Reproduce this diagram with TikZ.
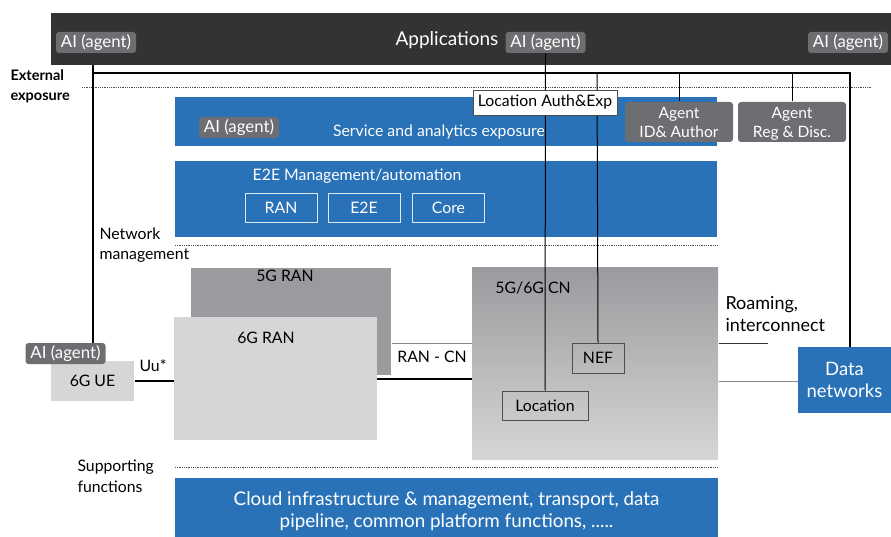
\documentclass[tikz,border=0pt]{standalone}
\usepackage{fontspec}
\setmainfont{Lato}
\usetikzlibrary{positioning}
\definecolor{appdark}{HTML}{333333}
\definecolor{ebblue}{HTML}{2A72B8}
\definecolor{agentgray}{HTML}{6D6E71}
\definecolor{rangray}{HTML}{9A9B9E}
\definecolor{lightgray}{HTML}{D6D6D6}
\definecolor{boxline}{HTML}{4D4D4D}
\definecolor{thingray}{HTML}{8A8A8A}

\begin{document}
\begin{tikzpicture}[x=1pt, y=-1pt, line width=1pt,
  txt/.style={font=\fontsize{15.8}{18}\selectfont, text=black, inner sep=0pt, align=left},
  wtxt/.style={txt, text=white, align=center},
  agent/.style={fill=agentgray, text=white, rounded corners=3pt, inner sep=0pt,
    minimum width=80, minimum height=21, font=\fontsize{16.8}{18}\selectfont},
  agentbig/.style={agent, minimum width=108, minimum height=40, align=center,
    font=\fontsize{15.6}{19}\selectfont},
  layer/.style={fill=ebblue, draw=none, inner sep=0pt},
  mgmtbox/.style={draw=white!85!ebblue, line width=0.8pt, text=white, inner sep=0pt,
    minimum width=72, minimum height=29, font=\fontsize{15.8}{18}\selectfont},
  nfbox/.style={draw=boxline, line width=0.8pt, inner sep=0pt, minimum height=29,
    font=\fontsize{15.8}{18}\selectfont},
  bus/.style={black, line width=1.6pt},
  link/.style={black, line width=1pt},
  sep/.style={black!70, densely dotted, line width=0.8pt}]

\useasboundingbox (0,0) rectangle (891,537);

% Applications layer
\node[fill=appdark, inner sep=0pt, minimum width=840, minimum height=52] (apps) at (471,39) {};
\node[wtxt, font=\fontsize{19}{21}\selectfont] (appstxt) at (447,40) {Applications};
\node[agent] (aiL) at (96,42.5) {AI (agent)};
\node[agent] (aiM) at (545.5,42.5) {AI (agent)};
\node[agent] (aiR) at (848,42.5) {AI (agent)};

% External exposure
\node[txt, anchor=west, font=\fontsize{14.5}{20}\selectfont\bfseries] (extlbl) at (10,86) {External\\exposure};
\draw[sep] (82,87) -- (872,87);

% Service and analytics exposure
\node[layer, minimum width=542, minimum height=49] (svc) at (446,121.5) {};
\node[wtxt] (svctxt) at (439,132) {Service and analytics exposure};
\node[agent] (aiSvc) at (239,127.5) {AI (agent)};
\node[agentbig, text depth=-1pt] (agid) at (679,122) {Agent\\ID\& Author};
\node[agentbig, text depth=-1pt] (agreg) at (792,122) {Agent\\Reg \& Disc.};

% E2E management
\node[layer, minimum width=542, minimum height=76] (e2e) at (446,199) {};
\node[wtxt] (e2etxt) at (357,176) {E2E Management/automation};
\node[mgmtbox] (mran) at (281,207.5) {RAN};
\node[mgmtbox] (me2e) at (364,207.5) {E2E};
\node[mgmtbox] (mcore) at (448.5,207.5) {Core};
\draw[sep] (175,245) -- (717,245);
\node[txt, anchor=west, font=\fontsize{15.8}{20}\selectfont] (nmlbl) at (99,245) {Network\\management};

% RAN and CN
\node[fill=rangray, inner sep=0pt, minimum width=200, minimum height=107] (ran5) at (291,321.5) {};
\node[txt] (ran5txt) at (285,276) {5G RAN};
\node[fill=lightgray, inner sep=0pt, minimum width=203, minimum height=123] (ran6) at (275.5,378.5) {};
\node[txt] (ran6txt) at (266,338) {6G RAN};
\node[top color=rangray, bottom color=lightgray, inner sep=0pt, minimum width=246, minimum height=191] (cn) at (595,363.5) {};
\node[txt] (cntxt) at (533,288) {5G/6G CN};
\node[nfbox, minimum width=52, minimum height=30] (nef) at (598,358) {NEF};
\node[nfbox, minimum width=86] (loc) at (545,405.5) {Location};

% UE and data networks
\node[fill=lightgray, inner sep=0pt, minimum width=83, minimum height=40, font=\fontsize{15.8}{18}\selectfont] (ue) at (92.5,381) {6G UE};
\node[agent] (aiUE) at (65.5,353.5) {AI (agent)};
\node[layer, minimum width=93, minimum height=66, text=white, align=center,
  font=\fontsize{18.5}{22}\selectfont] (dn) at (844.5,380) {Data\\networks};
\node[txt, anchor=west, font=\fontsize{18}{22}\selectfont] (roamtxt) at (725,314) {Roaming,\\interconnect};
\node[txt] (uutxt) at (153,366) {Uu*};
\node[txt] (rancntxt) at (432,357) {RAN - CN};

% Supporting functions
\draw[sep] (175,467) -- (718,467);
\node[txt, anchor=west, font=\fontsize{15.8}{21}\selectfont] (suplbl) at (77,476) {Supporting\\functions};
\node[layer, minimum width=543, minimum height=59] (cloud) at (446.5,507.5) {};
\node[wtxt, font=\fontsize{18.8}{22}\selectfont] (cloudtxt) at (446.5,511) {Cloud infrastructure \& management, transport, data\\pipeline, common platform functions, .....};

% Exposure bus
\coordinate (busL) at (93,73);
\coordinate (busR) at (850,73);
\draw[bus] (busL |- apps.south) -- (busL) -- (busR) -- (busR |- dn.north);
\draw[bus] (busL) -- (busL |- aiUE.north);
\draw[link] (aiM.south) -- (loc.north);
\draw[link] (597,73) -- (nef.north);
\draw[link] (agid.north) -- (agid.north |- busL);
\draw[link] (agreg.north) -- (agreg.north |- busL);
\node[nfbox, fill=white, minimum width=144, minimum height=25] (locauth) at (545,102.5) {Location Auth\&Exp};

% Interfaces
\coordinate (rc) at (377,379);
\draw[bus] (ue.east) -- (ue.east -| ran6.west);
\draw[bus] (rc) -- (rc -| cn.west);
\draw[thingray, line width=0.8pt] (ran5.east |- 0,343) -- (cn.west |- 0,343);
\draw[black!80, line width=0.8pt] (cn.east |- 0,343) -- (768,343);
\draw[thingray, line width=1pt] (cn.east |- 0,381) -- (dn.west |- 0,381);

\end{tikzpicture}
\end{document}
